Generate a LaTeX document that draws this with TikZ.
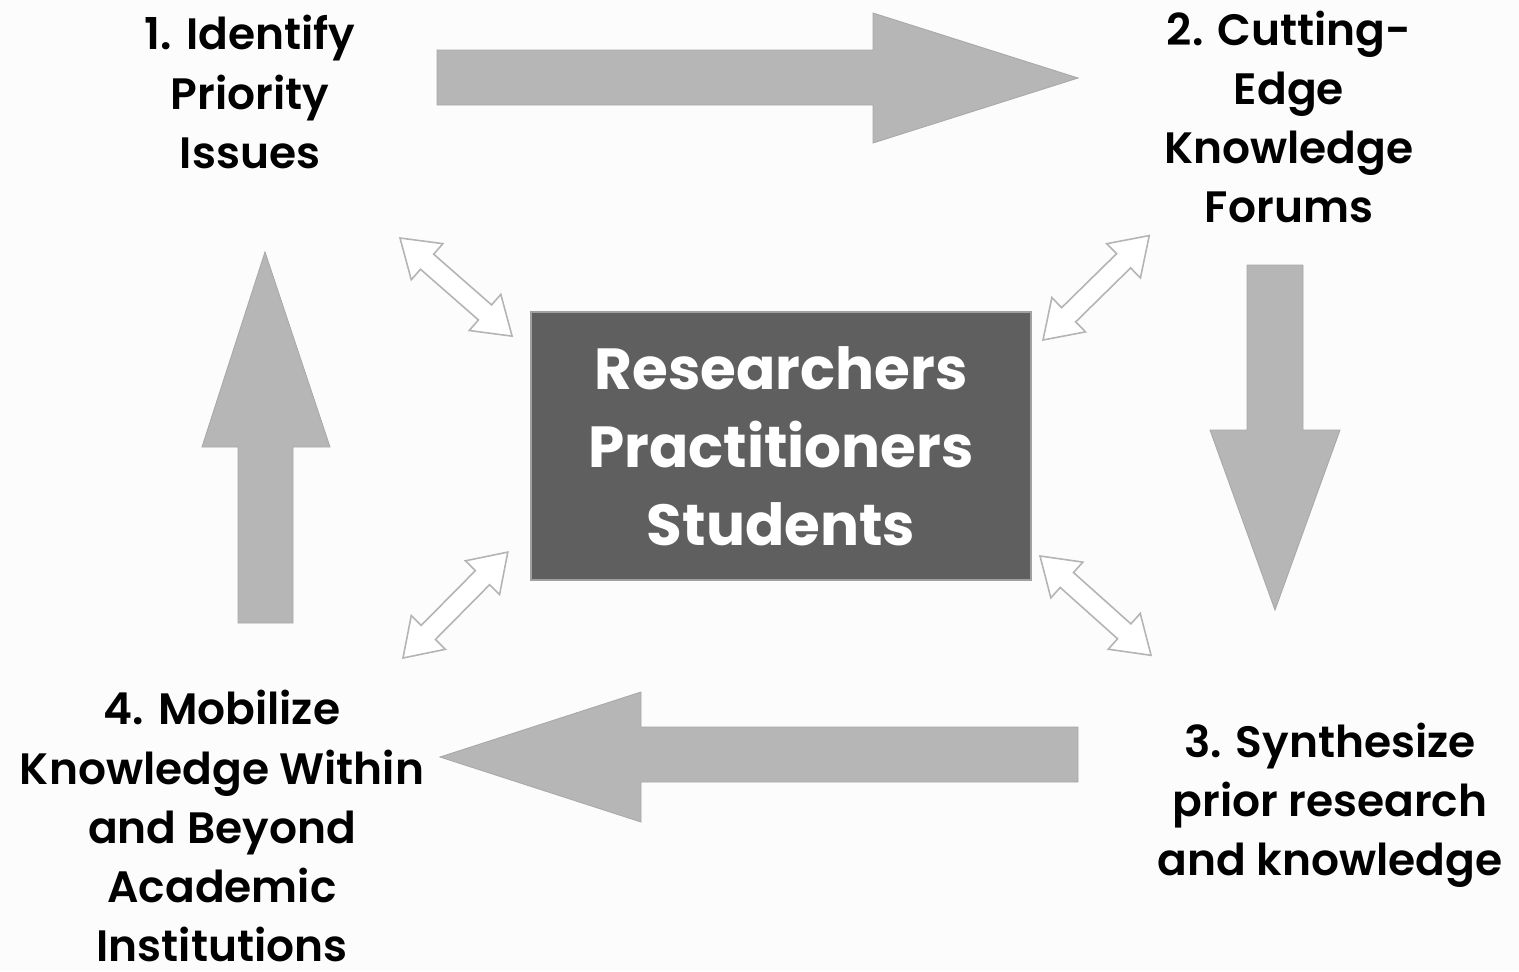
\documentclass[tikz,border=0pt]{standalone}
\usepackage{fontspec}
\setmainfont{Poppins}[BoldFont={Poppins SemiBold}]
\newfontfamily\hubfont{Poppins}
\usetikzlibrary{positioning, calc}
\definecolor{paper}{HTML}{FCFCFC}
\definecolor{blockgrey}{HTML}{B6B6B6}
\definecolor{blockedge}{HTML}{A9A9A9}
\definecolor{hubgrey}{HTML}{5F5F5F}
\definecolor{hubedge}{HTML}{A0A0A0}
\definecolor{thinline}{HTML}{B4B4B4}
\tikzset{
  bigarrow/.style={fill=blockgrey, draw=blockedge, line width=0.5pt},
  twoway/.style={fill=white, draw=thinline, line width=0.9pt, line join=miter},
  steplabel/.style={align=center, inner sep=0pt, text=black,
    font=\fontsize{25}{33.6}\selectfont\bfseries},
  hub/.style={fill=hubgrey, draw=hubedge, line width=1.2pt, text=white,
    align=center, minimum width=10cm, minimum height=5.36cm,
    font=\hubfont\fontsize{33}{44.5}\selectfont\bfseries}
}

\begin{document}
\begin{tikzpicture}[x=0.02cm, y=-0.02cm]
  \fill[paper] (0,0) rectangle (1519,971);
  \useasboundingbox (0,0) rectangle (1519,971);

  % the four steps round the loop
  \node[steplabel] (identify) at (250,92) {1. Identify\\Priority\\Issues};
  \node[steplabel] (forums) at (1289,117) {2. Cutting-\\Edge\\Knowledge\\Forums};
  \node[steplabel] (synth) at (1330,805) {3. Synthesize\\prior research\\and knowledge};
  \node[steplabel] (mobilize) at (222,826) {4. Mobilize\\Knowledge Within\\and Beyond\\Academic\\Institutions};

  \node[hub] (people) at (781,446) {Researchers\\Practitioners\\Students};

  % block arrows
  \draw[bigarrow] (437,50) -- (873,50) -- (873,13) -- (1078,78)
    -- (873,143) -- (873,105) -- (437,105) -- cycle;
  \draw[bigarrow] (1247,265) -- (1303,265) -- (1303,430) -- (1340,430)
    -- (1275,610) -- (1210,430) -- (1247,430) -- cycle;
  \draw[bigarrow] (1078,727) -- (641,727) -- (641,692) -- (440,757)
    -- (641,822) -- (641,782) -- (1078,782) -- cycle;
  \draw[bigarrow] (238,623) -- (238,447) -- (202,447) -- (265,252)
    -- (330,447) -- (293,447) -- (293,623) -- cycle;

  % links to the hub
  \coordinate (tl) at (400,238);
  \coordinate (tr) at (1043,340);
  \coordinate (bl) at (403,658);
  \coordinate (br) at (1040,556);
  \foreach \from/\ang in {tl/-41.2, tr/44.5, bl/45.3, br/-41.8}{%
    \draw[twoway, shift={(\from)}, rotate=\ang]
      (0,0) -- (36,24) -- (36,10) -- (113,10) -- (113,24) -- (149,0)
      -- (113,-24) -- (113,-10) -- (36,-10) -- (36,-24) -- cycle;}
\end{tikzpicture}
\end{document}
